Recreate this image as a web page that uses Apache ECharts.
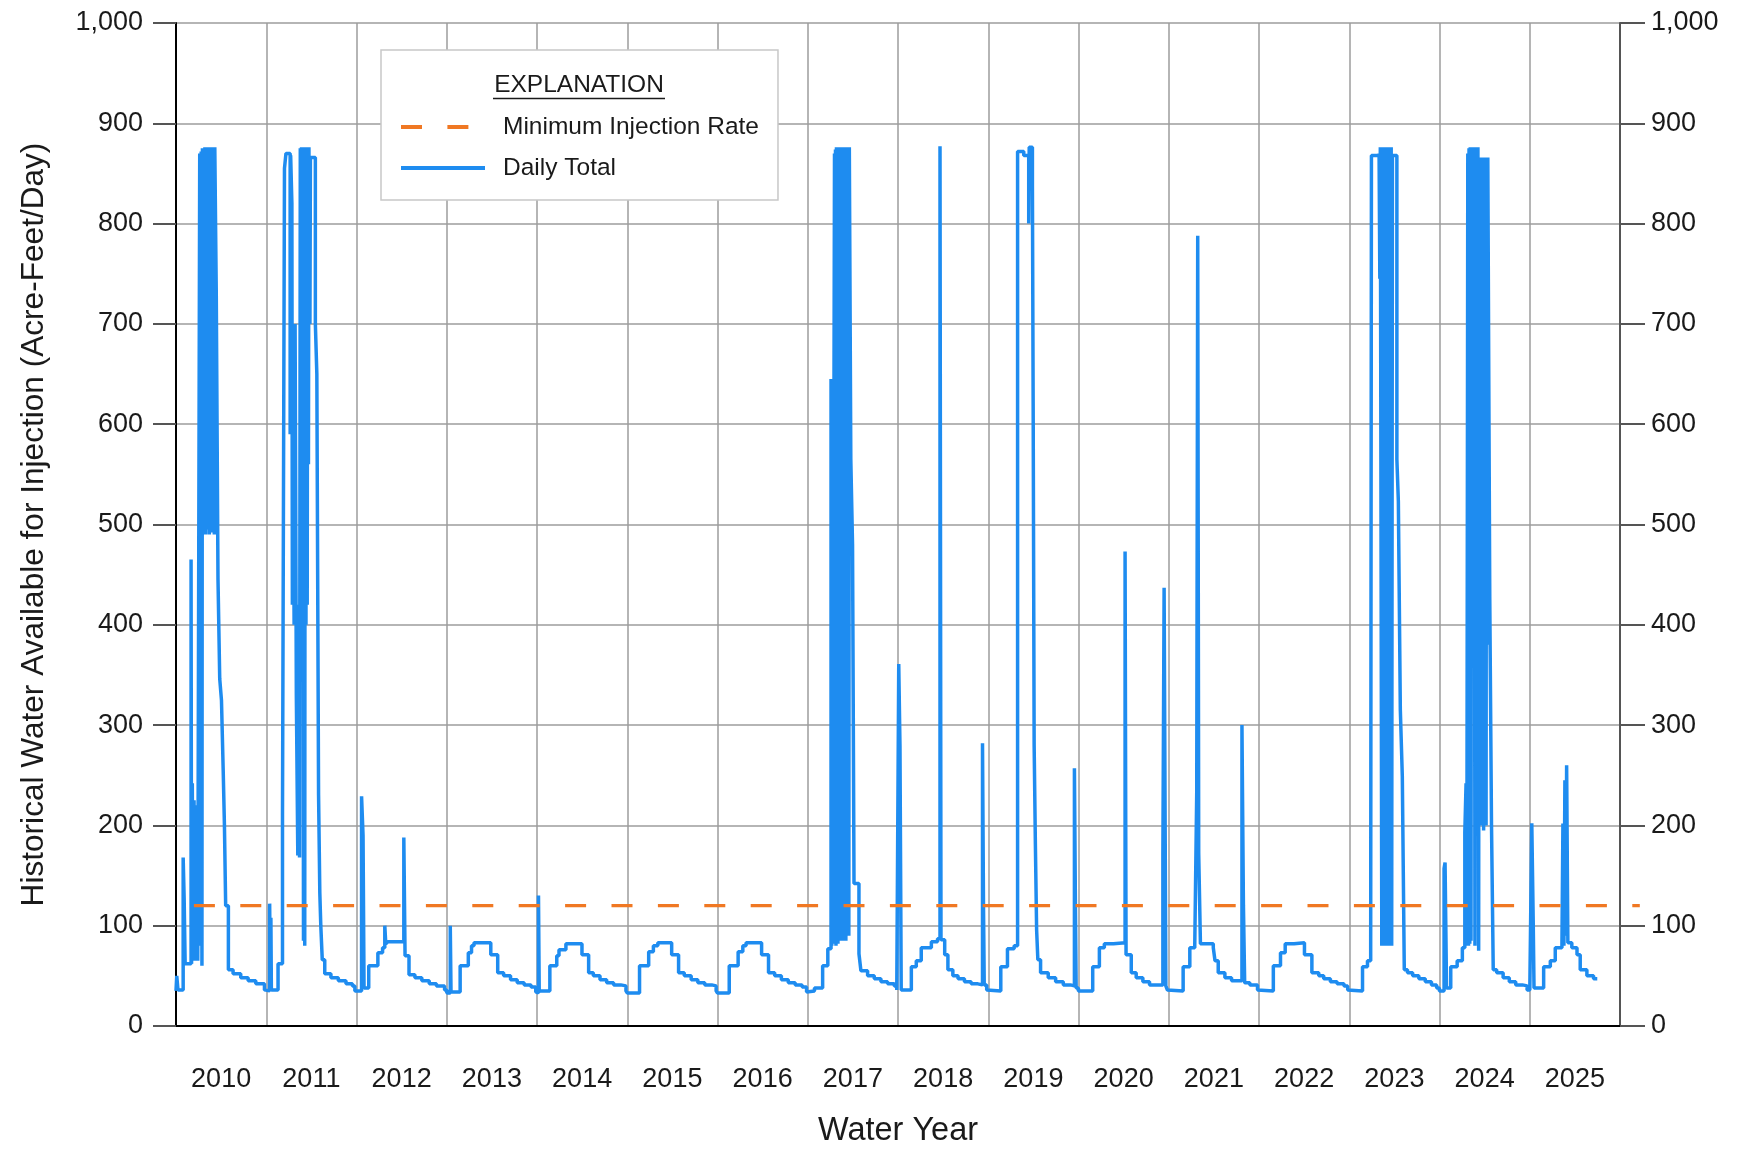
<!DOCTYPE html>
<html>
<head>
<meta charset="utf-8">
<title>Historical Water Available for Injection</title>
<script src="https://cdn.jsdelivr.net/npm/echarts@6/dist/echarts.min.js"></script>
<style>
  html, body { margin: 0; padding: 0; background: #fff; }
  #chart { width: 1743px; height: 1150px; }
</style>
</head>
<body>
<div id="chart"></div>
<script>
// water years on the axis (Oct 1 - Sep 30)
const waterYears = ['2010', '2011', '2012', '2013', '2014', '2015', '2016', '2017',
  '2018', '2019', '2020', '2021', '2022', '2023', '2024', '2025'];
const axisStart = '2009-10-01';
const axisEnd = '2025-10-01';

// minimum injection rate (acre-feet/day), line runs a bit past both axes
const minInjectionRate = 120;
const minRateSpan = ['2009-09-08', '2025-12-20'];

// daily total: [date the value starts, acre-feet/day]
const wy2010 = [
  ['2009-10-01', 35], ['2009-10-04', 50], ['2009-10-09', 36], ['2009-10-30', 168], ['2009-11-03', 127],
  ['2009-11-07', 62], ['2009-12-01', 465], ['2009-12-03', 62], ['2009-12-06', 242], ['2009-12-09', 70],
  ['2009-12-13', 225], ['2009-12-16', 65], ['2009-12-20', 200], ['2009-12-24', 220], ['2009-12-28', 65],
  ['2010-01-05', 870], ['2010-01-09', 80], ['2010-01-11', 872], ['2010-01-14', 60], ['2010-01-16', 875],
  ['2010-01-19', 600], ['2010-01-21', 875], ['2010-01-24', 500], ['2010-01-26', 876], ['2010-01-29', 490],
  ['2010-01-31', 876], ['2010-02-03', 600], ['2010-02-05', 876], ['2010-02-08', 495], ['2010-02-10', 876],
  ['2010-02-13', 490], ['2010-02-15', 876], ['2010-02-18', 500], ['2010-02-20', 876], ['2010-02-23', 492],
  ['2010-02-25', 876], ['2010-02-28', 495], ['2010-03-02', 876], ['2010-03-05', 490], ['2010-03-07', 876],
  ['2010-03-13', 730], ['2010-03-20', 445], ['2010-03-27', 346], ['2010-04-03', 325], ['2010-04-10', 255],
  ['2010-04-15', 200], ['2010-04-20', 120], ['2010-05-01', 56], ['2010-05-20', 52], ['2010-06-20', 48],
  ['2010-07-20', 45], ['2010-08-20', 42], ['2010-09-24', 36]
];
const wy2011 = [
  ['2010-10-01', 35], ['2010-10-15', 122], ['2010-10-18', 40], ['2010-10-20', 108], ['2010-10-22', 36],
  ['2010-11-18', 62], ['2010-12-06', 210], ['2010-12-14', 855], ['2010-12-20', 870], ['2011-01-06', 590],
  ['2011-01-08', 868], ['2011-01-13', 820], ['2011-01-15', 420], ['2011-01-18', 600], ['2011-01-22', 400],
  ['2011-01-26', 700], ['2011-01-31', 330], ['2011-02-06', 170], ['2011-02-10', 420], ['2011-02-13', 168],
  ['2011-02-16', 875], ['2011-02-19', 600], ['2011-02-21', 876], ['2011-02-24', 490], ['2011-02-26', 876],
  ['2011-03-01', 85], ['2011-03-03', 876], ['2011-03-06', 80], ['2011-03-08', 876], ['2011-03-11', 400],
  ['2011-03-13', 876], ['2011-03-16', 420], ['2011-03-18', 876], ['2011-03-21', 560], ['2011-03-23', 876],
  ['2011-03-27', 700], ['2011-03-29', 866], ['2011-04-18', 700], ['2011-04-24', 650], ['2011-05-01', 230],
  ['2011-05-06', 133], ['2011-05-10', 100], ['2011-05-16', 66], ['2011-05-26', 52], ['2011-06-20', 48],
  ['2011-07-20', 45], ['2011-08-20', 42], ['2011-09-15', 40], ['2011-09-25', 35]
];
const wy2012 = [
  ['2011-10-01', 35], ['2011-10-22', 229], ['2011-10-28', 190], ['2011-11-01', 38], ['2011-11-20', 60],
  ['2011-12-27', 73], ['2012-01-15', 78], ['2012-01-24', 100], ['2012-01-28', 82], ['2012-02-05', 84],
  ['2012-04-10', 188], ['2012-04-15', 70], ['2012-05-01', 51], ['2012-05-25', 48], ['2012-06-22', 45],
  ['2012-07-22', 42], ['2012-08-20', 40], ['2012-09-22', 36]
];
const wy2013 = [
  ['2012-10-01', 33], ['2012-10-15', 100], ['2012-10-18', 34], ['2012-11-24', 60], ['2012-12-27', 73],
  ['2013-01-09', 80], ['2013-01-19', 83], ['2013-03-28', 71], ['2013-04-25', 53], ['2013-05-19', 50],
  ['2013-06-16', 46], ['2013-07-13', 43], ['2013-08-10', 41], ['2013-09-07', 39], ['2013-09-26', 34]
];
const wy2014 = [
  ['2013-10-01', 33], ['2013-10-07', 130], ['2013-10-10', 35], ['2013-11-22', 60], ['2013-12-20', 70],
  ['2013-12-29', 76], ['2014-01-26', 82], ['2014-04-01', 71], ['2014-04-28', 53], ['2014-05-17', 50],
  ['2014-06-13', 46], ['2014-07-10', 43], ['2014-08-07', 41], ['2014-09-05', 40], ['2014-09-26', 35]
];
const wy2015 = [
  ['2014-10-01', 33], ['2014-11-20', 60], ['2014-12-27', 74], ['2015-01-15', 80], ['2015-02-02', 83],
  ['2015-03-30', 71], ['2015-04-27', 53], ['2015-05-20', 50], ['2015-06-17', 46], ['2015-07-14', 43],
  ['2015-08-11', 41], ['2015-09-08', 40], ['2015-09-26', 35]
];
const wy2016 = [
  ['2015-10-01', 33], ['2015-11-18', 60], ['2015-12-24', 74], ['2016-01-12', 80], ['2016-01-25', 83],
  ['2016-03-28', 71], ['2016-04-25', 53], ['2016-05-20', 50], ['2016-06-16', 46], ['2016-07-14', 43],
  ['2016-08-11', 41], ['2016-09-08', 39], ['2016-09-26', 34]
];
const wy2017 = [
  ['2016-10-01', 35], ['2016-10-28', 38], ['2016-11-30', 60], ['2016-12-21', 77], ['2017-01-03', 645],
  ['2017-01-06', 80], ['2017-01-09', 640], ['2017-01-12', 82], ['2017-01-15', 645], ['2017-01-17', 870],
  ['2017-01-19', 85], ['2017-01-21', 874], ['2017-01-23', 80], ['2017-01-25', 876], ['2017-01-27', 90],
  ['2017-01-29', 876], ['2017-01-31', 82], ['2017-02-02', 876], ['2017-02-04', 95], ['2017-02-06', 876],
  ['2017-02-08', 85], ['2017-02-10', 876], ['2017-02-12', 120], ['2017-02-14', 876], ['2017-02-16', 90],
  ['2017-02-18', 876], ['2017-02-20', 85], ['2017-02-22', 876], ['2017-02-24', 100], ['2017-02-26', 876],
  ['2017-02-28', 88], ['2017-03-02', 876], ['2017-03-04', 85], ['2017-03-06', 876], ['2017-03-08', 380],
  ['2017-03-10', 876], ['2017-03-12', 377], ['2017-03-14', 876], ['2017-03-16', 90], ['2017-03-18', 876],
  ['2017-03-24', 565], ['2017-03-31', 480], ['2017-04-06', 142], ['2017-04-26', 72], ['2017-05-04', 55],
  ['2017-05-31', 50], ['2017-06-27', 47], ['2017-07-24', 44], ['2017-08-20', 42], ['2017-09-16', 40],
  ['2017-09-26', 36]
];
const wy2018 = [
  ['2017-10-01', 36], ['2017-10-04', 361], ['2017-10-09', 279], ['2017-10-14', 36], ['2017-11-24', 59],
  ['2017-12-14', 65], ['2018-01-03', 78], ['2018-02-13', 84], ['2018-03-10', 87], ['2018-03-20', 877],
  ['2018-03-24', 86], ['2018-04-08', 71], ['2018-04-21', 56], ['2018-05-11', 50], ['2018-06-01', 47],
  ['2018-06-27', 44], ['2018-07-24', 42], ['2018-08-20', 41], ['2018-09-08', 282], ['2018-09-12', 120],
  ['2018-09-15', 41], ['2018-09-25', 36]
];
const wy2019 = [
  ['2018-10-01', 35], ['2018-11-21', 59], ['2018-12-18', 77], ['2019-01-14', 80], ['2019-01-28', 872],
  ['2019-02-22', 868], ['2019-03-14', 800], ['2019-03-16', 876], ['2019-03-29', 840], ['2019-04-01', 620],
  ['2019-04-05', 280], ['2019-04-10', 181], ['2019-04-15', 96], ['2019-04-20', 66], ['2019-05-01', 53],
  ['2019-06-01', 48], ['2019-07-01', 44], ['2019-08-01', 41], ['2019-08-30', 40], ['2019-09-15', 257],
  ['2019-09-19', 120], ['2019-09-22', 38]
];
const wy2020 = [
  ['2019-10-01', 35], ['2019-11-28', 59], ['2019-12-25', 78], ['2020-01-14', 82], ['2020-02-20', 83],
  ['2020-04-07', 473], ['2020-04-11', 71], ['2020-05-02', 53], ['2020-05-22', 48], ['2020-06-18', 44],
  ['2020-07-15', 41], ['2020-09-07', 172], ['2020-09-12', 437], ['2020-09-19', 40], ['2020-09-25', 36]
];
const wy2021 = [
  ['2020-10-01', 35], ['2020-11-28', 59], ['2020-12-25', 78], ['2021-01-14', 80], ['2021-01-22', 233],
  ['2021-01-26', 788], ['2021-01-30', 172], ['2021-02-06', 82], ['2021-03-30', 78], ['2021-04-06', 65],
  ['2021-04-19', 53], ['2021-05-16', 48], ['2021-06-12', 45], ['2021-07-24', 300], ['2021-07-30', 120],
  ['2021-08-04', 43], ['2021-08-25', 41], ['2021-09-25', 36]
];
const wy2022 = [
  ['2021-10-01', 35], ['2021-11-28', 60], ['2021-12-27', 73], ['2022-01-15', 82], ['2022-02-20', 83],
  ['2022-04-03', 71], ['2022-05-03', 53], ['2022-05-31', 50], ['2022-06-20', 47], ['2022-07-17', 44],
  ['2022-08-13', 42], ['2022-09-10', 40], ['2022-09-25', 36]
];
const wy2023 = [
  ['2022-10-01', 35], ['2022-11-24', 59], ['2022-12-14', 65], ['2022-12-27', 78], ['2022-12-30', 868],
  ['2023-01-30', 870], ['2023-02-02', 745], ['2023-02-04', 876], ['2023-02-10', 80], ['2023-02-12', 876],
  ['2023-02-14', 85], ['2023-02-16', 876], ['2023-02-18', 80], ['2023-02-20', 876], ['2023-02-22', 90],
  ['2023-02-24', 876], ['2023-02-26', 80], ['2023-02-28', 876], ['2023-03-02', 82], ['2023-03-04', 876],
  ['2023-03-06', 80], ['2023-03-08', 876], ['2023-03-10', 85], ['2023-03-12', 876], ['2023-03-14', 80],
  ['2023-03-16', 876], ['2023-03-18', 82], ['2023-03-20', 876], ['2023-03-22', 80], ['2023-03-25', 868],
  ['2023-04-12', 565], ['2023-04-18', 523], ['2023-04-26', 315], ['2023-05-04', 249], ['2023-05-12', 56],
  ['2023-05-25', 53], ['2023-06-15', 50], ['2023-07-10', 47], ['2023-08-05', 44], ['2023-08-30', 41],
  ['2023-09-20', 38]
];
const wy2024 = [
  ['2023-10-01', 35], ['2023-10-20', 157], ['2023-10-24', 163], ['2023-10-30', 38], ['2023-11-16', 59],
  ['2023-12-12', 65], ['2024-01-02', 78], ['2024-01-12', 193], ['2024-01-17', 242], ['2024-01-20', 80],
  ['2024-01-24', 870], ['2024-01-27', 80], ['2024-01-29', 875], ['2024-02-01', 82], ['2024-02-03', 876],
  ['2024-02-06', 85], ['2024-02-08', 876], ['2024-02-12', 380], ['2024-02-14', 876], ['2024-02-17', 370],
  ['2024-02-19', 876], ['2024-02-22', 80], ['2024-02-24', 876], ['2024-02-27', 375], ['2024-02-29', 876],
  ['2024-03-03', 370], ['2024-03-05', 876], ['2024-03-08', 75], ['2024-03-10', 866], ['2024-03-13', 372],
  ['2024-03-15', 866], ['2024-03-18', 200], ['2024-03-20', 866], ['2024-03-23', 373], ['2024-03-25', 866],
  ['2024-03-28', 195], ['2024-03-30', 866], ['2024-04-02', 380], ['2024-04-04', 866], ['2024-04-07', 200],
  ['2024-04-09', 866], ['2024-04-12', 380], ['2024-04-14', 866], ['2024-04-22', 425], ['2024-04-29', 200],
  ['2024-05-06', 56], ['2024-05-20', 53], ['2024-06-15', 48], ['2024-07-10', 44], ['2024-08-05', 41],
  ['2024-09-01', 40], ['2024-09-20', 36]
];
const wy2025 = [
  ['2024-10-01', 35], ['2024-10-09', 202], ['2024-10-15', 100], ['2024-10-18', 38], ['2024-11-26', 59],
  ['2024-12-23', 65], ['2025-01-12', 78], ['2025-02-08', 80], ['2025-02-12', 202], ['2025-02-16', 80],
  ['2025-02-20', 245], ['2025-02-24', 90], ['2025-02-27', 260], ['2025-03-04', 83], ['2025-03-20', 78],
  ['2025-04-10', 71], ['2025-04-23', 56], ['2025-05-20', 50], ['2025-06-16', 47], ['2025-07-01', 47]
];

const dailyTotal = [].concat(wy2010, wy2011, wy2012, wy2013, wy2014, wy2015, wy2016, wy2017,
  wy2018, wy2019, wy2020, wy2021, wy2022, wy2023, wy2024, wy2025);

const blue = '#1e8cf0';
const orange = '#f07823';
const font = "'Liberation Sans', Arial, sans-serif";
const textColor = '#1a1a1a';
const gridColor = '#9c9c9c';

const chart = echarts.init(document.getElementById('chart'));
chart.setOption({
  animation: false,
  backgroundColor: '#fff',
  textStyle: { fontFamily: font },
  grid: [
    { left: 176, right: 123, top: 23, bottom: 124, containLabel: false, outerBoundsMode: 'none' },
    // wider frame so the minimum-rate line can run a little past both axes (Sep 8 2009 .. Dec 20 2025)
    { left: 170.3, right: 103.2, top: 23, bottom: 124, containLabel: false, outerBoundsMode: 'none' }
  ],
  legend: {
    data: ['Minimum Injection Rate', 'Daily Total'],
    orient: 'vertical',
    left: 381,
    top: 50,
    padding: [62, 19, 17, 18],
    backgroundColor: '#fff',
    borderColor: '#c8c8c8',
    borderWidth: 1.5,
    itemWidth: 84,
    itemHeight: 14,
    itemGap: 11,
    selectedMode: false,
    // hide the centre marker, keep only the line sample
    itemStyle: { opacity: 0, color: 'rgba(0,0,0,0)', borderWidth: 0 },
    lineStyle: { width: 4, dashOffset: 0 },
    textStyle: { fontSize: 24.5, color: textColor, lineHeight: 30, padding: [0, 0, 0, 13] }
  },
  graphic: [
    {
      type: 'text', z: 100,
      style: { text: 'EXPLANATION', x: 579, y: 85, align: 'center', verticalAlign: 'middle',
        font: '24.5px ' + font, fill: textColor }
    },
    {
      type: 'line', z: 100,
      shape: { x1: 493, y1: 98.5, x2: 665, y2: 98.5 },
      style: { stroke: textColor, lineWidth: 1.5 }
    }
  ],
  xAxis: [
    {
      type: 'category',
      gridIndex: 0,
      data: waterYears,
      boundaryGap: true,
      position: 'bottom',
      name: 'Water Year',
      nameLocation: 'middle',
      nameGap: 89,
      nameTextStyle: { fontSize: 32.5, color: textColor },
      axisLine: { lineStyle: { color: '#000', width: 2 } },
      axisTick: { interval: 0, length: 23, lineStyle: { color: '#333', width: 1 } },
      axisLabel: { interval: 0, margin: 40, fontSize: 27, color: textColor },
      splitLine: { show: true, interval: 0, lineStyle: { color: gridColor, width: 1.5 } }
    },
    { type: 'time', gridIndex: 0, min: axisStart, max: axisEnd, show: false },
    { type: 'time', gridIndex: 1, min: minRateSpan[0], max: minRateSpan[1], show: false }
  ],
  yAxis: [
    {
      type: 'value', gridIndex: 0, min: 0, max: 1000, interval: 100, position: 'left',
      name: 'Historical Water Available for Injection (Acre-Feet/Day)',
      nameLocation: 'middle',
      nameGap: 126,
      nameMoveOverlap: false,
      nameTextStyle: { fontSize: 31.6, color: textColor },
      axisLine: { show: true, lineStyle: { color: '#000', width: 2 } },
      axisTick: { show: true, length: 23, lineStyle: { color: '#555', width: 2 } },
      axisLabel: { margin: 33, fontSize: 27, color: textColor, formatter: v => v.toLocaleString('en-US') },
      splitLine: { show: true, lineStyle: { color: gridColor, width: 1.5 } }
    },
    {
      type: 'value', gridIndex: 0, min: 0, max: 1000, interval: 100, position: 'right',
      axisLine: { show: true, lineStyle: { color: '#555', width: 2 } },
      axisTick: { show: true, length: 25, lineStyle: { color: '#555', width: 2 } },
      axisLabel: { margin: 31, fontSize: 27, color: textColor, formatter: v => v.toLocaleString('en-US') },
      splitLine: { show: false }
    },
    { type: 'value', gridIndex: 1, min: 0, max: 1000, show: false }
  ],
  series: [
    {
      name: 'Daily Total',
      type: 'line',
      xAxisIndex: 1,
      yAxisIndex: 0,
      step: 'end',
      symbol: 'none',
      showSymbol: false,
      data: dailyTotal,
      lineStyle: { color: blue, width: 3.5 },
      itemStyle: { color: blue },
      z: 2
    },
    {
      name: 'Minimum Injection Rate',
      type: 'line',
      xAxisIndex: 2,
      yAxisIndex: 2,
      symbol: 'none',
      showSymbol: false,
      clip: false,
      data: [[minRateSpan[0], minInjectionRate], [minRateSpan[1], minInjectionRate]],
      lineStyle: { color: orange, width: 3.2, type: [21, 25.4], dashOffset: 22.8 },
      itemStyle: { color: orange },
      z: 3
    }
  ]
});
</script>
</body>
</html>
